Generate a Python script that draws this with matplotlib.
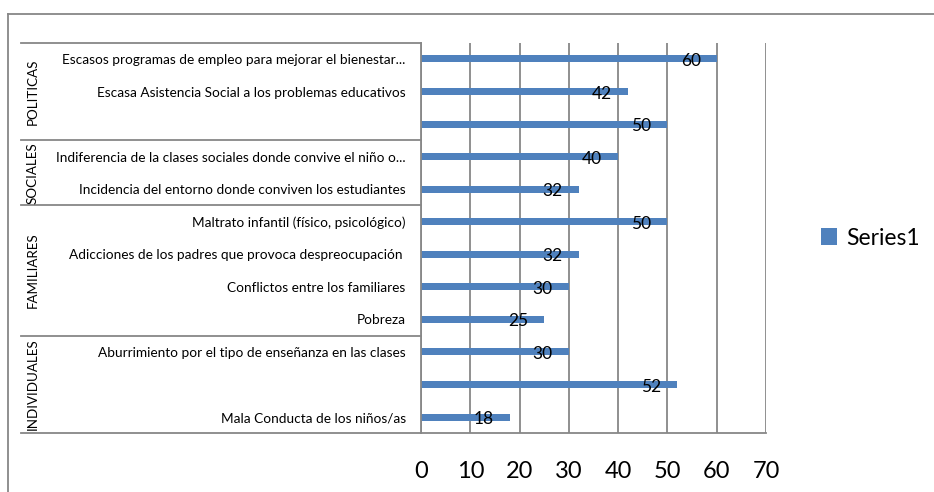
import matplotlib.pyplot as plt
from matplotlib.lines import Line2D
import matplotlib.transforms as mtransforms

# categories from bottom to top, with their group
categories = [
    "Mala Conducta de los niños/as",
    "",
    "Aburrimiento por el tipo de enseñanza en las clases",
    "Pobreza",
    "Conflictos entre los familiares",
    "Adicciones de los padres que provoca despreocupación ",
    "Maltrato infantil (físico, psicológico)",
    "Incidencia del entorno donde conviven los estudiantes",
    "Indiferencia de la clases sociales donde convive el niño o...",
    "",
    "Escasa Asistencia Social a los problemas educativos",
    "Escasos programas de empleo para mejorar el bienestar...",
]
values = [18, 52, 30, 25, 30, 32, 50, 32, 40, 50, 42, 60]
groups = ["INDIVIDUALES", "FAMILIARES", "SOCIALES", "POLITICAS"]
group_sizes = [3, 4, 2, 3]
xticks = [0, 10, 20, 30, 40, 50, 60, 70]

bar_color = "#4F81BD"
line_color = "#878787"
font = "Lato"

fig = plt.figure(figsize=(9.34, 4.92), dpi=100)
ax = fig.add_axes([421 / 934, 1 - 433.3 / 492, 345 / 934, (433.3 - 42.7) / 492])

ypos = list(range(len(categories)))
ax.barh(ypos, values, height=0.215, color=bar_color, label="Series1", zorder=3)

ax.set_xlim(0, 70)
ax.set_ylim(-0.5, len(categories) - 0.5)
ax.set_xticks(xticks)
ax.set_xticklabels([str(t) for t in xticks], fontsize=17, family=font)
ax.set_yticks(ypos)
ax.set_yticklabels(categories, fontsize=9.85, family=font)
ax.tick_params(axis="x", length=0, pad=20)
ax.tick_params(axis="y", length=0, pad=11)

ax.grid(axis="x", color=line_color, linewidth=1.3, zorder=1)
for s in ["top", "right"]:
    ax.spines[s].set_visible(False)
for s in ["left", "bottom"]:
    ax.spines[s].set_color(line_color)
    ax.spines[s].set_linewidth(1.3)
    ax.spines[s].set_zorder(4)

# data labels inside the bar end
for y, v in zip(ypos, values):
    ax.annotate(str(v), (v, y), xytext=(-11.5, -1.5), textcoords="offset points",
                ha="right", va="center", fontsize=12.5, family=font, zorder=5)

# group separators and group labels
trans = mtransforms.blended_transform_factory(ax.transAxes, ax.transData)
x_left = (21 - 421) / 345
start = -0.5
for g, n in zip(groups, group_sizes):
    end = start + n
    ax.add_line(Line2D([x_left, 0], [start, start], transform=trans, color=line_color,
                       linewidth=1.3, clip_on=False))
    ax.text((33 - 421) / 345, (start + end) / 2, g, transform=trans, rotation=90,
            ha="center", va="center", fontsize=9.6, family=font)
    start = end
ax.add_line(Line2D([x_left, 0], [start, start], transform=trans, color=line_color,
                   linewidth=1.3, clip_on=False))

# legend
leg = ax.legend(loc="center left", bbox_to_anchor=(1.1, 0.5), frameon=False,
                prop={"family": font, "size": 16.5}, handlelength=0.7, handleheight=0.7,
                handletextpad=0.4)

# chart border
fig.add_artist(Line2D([7.5 / 934, 7.5 / 934], [0, 1 - 13.5 / 492],
                      transform=fig.transFigure, color=line_color, linewidth=1.3))
fig.add_artist(Line2D([7.5 / 934, 1], [1 - 13.5 / 492, 1 - 13.5 / 492],
                      transform=fig.transFigure, color=line_color, linewidth=1.3))

fig.savefig("out.png", dpi=100)
